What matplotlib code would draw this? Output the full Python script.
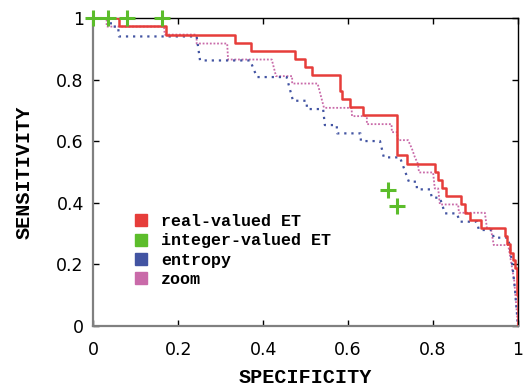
import matplotlib
matplotlib.use("Agg")
import matplotlib.pyplot as plt
from matplotlib.lines import Line2D

# ROC curves (specificity, sensitivity)
real_spec = [0.000, 0.061, 0.171, 0.333, 0.370, 0.475, 0.498, 0.514, 0.581, 0.585,
             0.604, 0.634, 0.714, 0.739, 0.804, 0.811, 0.820, 0.830, 0.865, 0.875,
             0.887, 0.913, 0.969, 0.973, 0.981, 0.989, 0.993, 0.997, 1.000]
real_sens = [1.000, 0.974, 0.947, 0.921, 0.894, 0.868, 0.842, 0.816, 0.763, 0.737,
             0.711, 0.685, 0.555, 0.528, 0.501, 0.474, 0.447, 0.422, 0.395, 0.368,
             0.344, 0.318, 0.292, 0.268, 0.238, 0.214, 0.188, 0.100, 0.000]

entropy_spec = [0.000, 0.041, 0.041, 0.058, 0.060, 0.243, 0.251, 0.369, 0.385, 0.455,
                0.470, 0.502, 0.503, 0.541, 0.545, 0.573, 0.574, 0.629, 0.630, 0.675,
                0.684, 0.722, 0.743, 0.761, 0.762, 0.793, 0.797, 0.816, 0.828, 0.856,
                0.863, 0.903, 0.908, 0.938, 0.943, 0.977, 0.986, 0.993, 1.000]
entropy_sens = [1.000, 1.000, 0.973, 0.973, 0.941, 0.941, 0.863, 0.863, 0.809, 0.809,
                0.732, 0.732, 0.705, 0.705, 0.653, 0.653, 0.626, 0.626, 0.601, 0.601,
                0.548, 0.548, 0.469, 0.469, 0.444, 0.444, 0.417, 0.417, 0.366, 0.366,
                0.339, 0.339, 0.312, 0.312, 0.287, 0.287, 0.208, 0.117, 0.000]

zoom_spec = [0.000, 0.031, 0.031, 0.166, 0.168, 0.243, 0.243, 0.315, 0.317, 0.420,
             0.430, 0.468, 0.468, 0.528, 0.543, 0.608, 0.609, 0.644, 0.644, 0.702,
             0.703, 0.715, 0.717, 0.741, 0.750, 0.757, 0.764, 0.767, 0.800, 0.804,
             0.812, 0.816, 0.859, 0.861, 0.922, 0.927, 0.936, 0.943, 0.977, 0.991, 1.000]
zoom_sens = [1.000, 1.000, 0.973, 0.973, 0.947, 0.947, 0.918, 0.918, 0.866, 0.866,
             0.812, 0.812, 0.788, 0.788, 0.709, 0.709, 0.682, 0.682, 0.656, 0.656,
             0.630, 0.630, 0.604, 0.604, 0.577, 0.549, 0.528, 0.499, 0.499, 0.447,
             0.447, 0.395, 0.395, 0.368, 0.368, 0.317, 0.317, 0.263, 0.263, 0.149, 0.000]

# integer-valued ET operating points
int_spec = [0.000, 0.035, 0.080, 0.161, 0.694, 0.714]
int_sens = [1.000, 1.000, 1.000, 1.000, 0.442, 0.391]

labels = ["real-valued ET", "integer-valued ET", "entropy", "zoom"]
colors = ["#e63d3a", "#5cbd2b", "#4254a2", "#c96aa9"]

mono = "Liberation Mono"

fig = plt.figure(figsize=(5.24, 3.90), dpi=100)
ax = fig.add_axes([0.1784, 0.1641, 0.8101, 0.789])

ax.plot(zoom_spec, zoom_sens, color=colors[3], lw=1.3, linestyle=(0, (1, 1)), zorder=2)
ax.plot(entropy_spec, entropy_sens, color=colors[2], lw=1.6, linestyle=(0, (1, 2.2)), zorder=3)
ax.plot(real_spec, real_sens, color=colors[0], lw=1.8, drawstyle="steps-post", zorder=4)
ax.plot(int_spec, int_sens, linestyle="none", marker="+", color=colors[1],
        markersize=12, markeredgewidth=2.2, clip_on=False, zorder=6)

ax.set_xlim(0, 1)
ax.set_ylim(0, 1)
ax.set_xticks([0, 0.2, 0.4, 0.6, 0.8, 1])
ax.set_yticks([0, 0.2, 0.4, 0.6, 0.8, 1])
ax.set_xticklabels(["0", "0.2", "0.4", "0.6", "0.8", "1"])
ax.set_yticklabels(["0", "0.2", "0.4", "0.6", "0.8", "1"])
ax.tick_params(direction="in", length=4.5, width=1, top=True, right=True, labelsize=12.5)
ax.tick_params(axis="x", pad=11)
ax.tick_params(axis="y", pad=7)

for side in ["left", "bottom"]:
    ax.spines[side].set_color("#808080")
    ax.spines[side].set_linewidth(1.6)
for side in ["top", "right"]:
    ax.spines[side].set_color("black")
    ax.spines[side].set_linewidth(1.0)

ax.set_xlabel("SPECIFICITY", fontfamily=mono, fontweight="bold", fontsize=14.5, labelpad=6)
ax.set_ylabel("SENSITIVITY", fontfamily=mono, fontweight="bold", fontsize=14.5, labelpad=16)

handles = [Line2D([], [], linestyle="none", marker="s", markersize=8, color=c) for c in colors]
ax.legend(handles, labels, loc="upper left", bbox_to_anchor=(0.08, 0.385),
          frameon=False, handlelength=0.8, handletextpad=0.8, labelspacing=0.25,
          borderaxespad=0, prop={"family": mono, "weight": "bold", "size": 12})

fig.savefig("out.png", dpi=100)
